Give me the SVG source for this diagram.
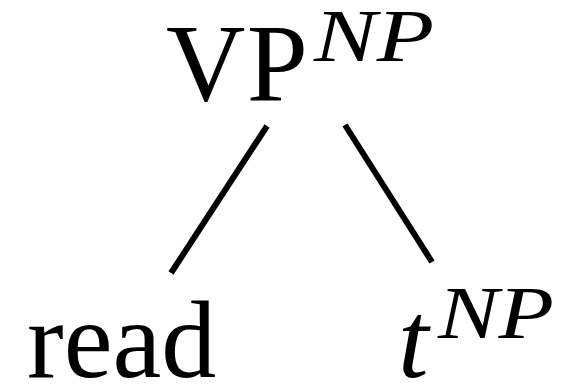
<svg xmlns="http://www.w3.org/2000/svg" width="574" height="384" viewBox="0 0 574 384">
<style>
.m{font-size:110px;fill:#000}
.s{font-style:italic;font-size:75px;fill:#000}
.e{stroke:#000;stroke-width:6;fill:none}
</style>
<rect width="574" height="384" fill="#fff"/>
<g id="connectors">
<line class="e" x1="267" y1="126" x2="171" y2="273"/>
<line class="e" x1="345" y1="125" x2="432" y2="262"/>
</g>
<g id="vp" font-family="'Liberation Serif', 'DejaVu Serif', serif">
<text class="m" x="166" y="100" textLength="142" lengthAdjust="spacing">VP</text>
<text class="s" x="314" y="61" textLength="120" lengthAdjust="spacingAndGlyphs">NP</text>
</g>
<g id="read" font-family="'Liberation Serif', 'DejaVu Serif', serif">
<text class="m" x="27" y="377" font-size="105">read</text>
</g>
<g id="trace" font-family="'Liberation Serif', 'DejaVu Serif', serif">
<text class="m" x="398" y="377" font-size="105" font-style="italic">t</text>
<text class="s" x="438" y="338" textLength="116" lengthAdjust="spacingAndGlyphs">NP</text>
</g>
</svg>
